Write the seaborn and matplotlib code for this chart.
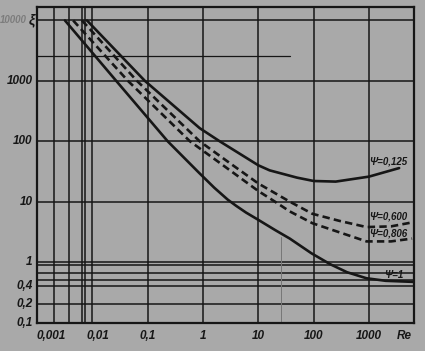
import matplotlib
matplotlib.use("Agg")
import matplotlib.pyplot as plt
import matplotlib.transforms as mtrans
import pandas as pd
import seaborn as sns

# readings: drag coefficient xi against Re
re_psi_1 = [0.0032, 0.027, 0.23, 0.85, 1.6, 2.8, 4, 6, 10, 20, 37, 91, 200, 400, 900, 2000, 6500]
xi_psi_1 = [10000, 1000, 100, 30, 17, 10.8, 8.5, 6.6, 5.0, 3.4, 2.45, 1.4, 0.92, 0.68, 0.54, 0.49, 0.47]
re_psi_0806 = [0.0045, 0.044, 0.58, 2, 10, 20, 37, 95, 295, 900, 2500, 6000]
xi_psi_0806 = [10000, 1000, 100, 44, 15, 10, 6.9, 4.4, 3.1, 2.2, 2.2, 2.45]
re_psi_0600 = [0.0065, 0.064, 0.87, 3, 10, 37, 95, 295, 900, 2500, 6500]
xi_psi_0600 = [10000, 1000, 100, 44, 20, 10, 6.3, 4.8, 3.8, 3.9, 4.6]
re_psi_0125 = [0.008, 0.089, 0.87, 2, 10, 16, 50, 100, 250, 1000, 3500]
xi_psi_0125 = [10000, 1000, 165, 100, 40, 33, 25, 22, 21.5, 26, 36]

curve_labels = ["Ψ=0,125", "Ψ=0,600", "Ψ=0,806", "Ψ=1"]

# grid of the drawing
x_grid = [0.002, 0.0038, 0.0065, 0.0073, 0.01, 0.1, 1, 10, 100, 1000]
y_grid = [0.2, 0.4, 0.5, 0.66, 0.88, 1, 10, 100, 1000, 10000]
x_ticks = [0.001, 0.01, 0.1, 1, 10, 100, 1000]
x_ticklabels = ["0,001", "0,01", "0,1", "1", "10", "100", "1000"]
y_ticks = [0.1, 0.2, 0.4, 1, 10, 100, 1000]
y_ticklabels = ["0,1", "0,2", "0,4", "1", "10", "100", "1000"]

rows = []
for name, res, xis, kind in [
    ("0.125", re_psi_0125, xi_psi_0125, "solid"),
    ("0.600", re_psi_0600, xi_psi_0600, "dashed"),
    ("0.806", re_psi_0806, xi_psi_0806, "dashed"),
    ("1", re_psi_1, xi_psi_1, "solid"),
]:
    for r, x in zip(res, xis):
        rows.append({"Re": r, "xi": x, "psi": name, "kind": kind})
dfrm = pd.DataFrame(rows)

bg = "#a9a9a9"
ink = "#161616"
sns.set_theme(style="white")
plt.rcParams["font.family"] = ["Liberation Sans", "DejaVu Sans"]

fig = plt.figure(figsize=(4.25, 3.51), dpi=100, facecolor=bg)
ax = fig.add_axes([37 / 425, 1 - 322.5 / 351, 377 / 425, 315.5 / 351])
ax.set_facecolor(bg)
ax.set_xscale("log")
ax.set_yscale("log")
ax.set_xlim(0.001, 6500)
ax.set_ylim(0.1, 16700)

for xv in x_grid:
    ax.axvline(xv, color=ink, lw=1.1, zorder=1)
for yv in y_grid:
    ax.axhline(yv, color=ink, lw=1.1, zorder=1)
# partial / faint lines of the original sheet
ax.axhline(2600, xmax=0.67, color=ink, lw=0.9, zorder=1)
ax.axvline(26, ymax=0.27, color="#777777", lw=0.7, zorder=1)

sns.lineplot(data=dfrm, x="Re", y="xi", units="psi", style="kind",
             estimator=None, sort=False, color=ink, lw=1.9,
             dashes={"solid": "", "dashed": (2.8, 1.6)},
             legend=False, ax=ax, zorder=3)

for side in ["left", "right", "top", "bottom"]:
    ax.spines[side].set_visible(True)
    ax.spines[side].set_color(ink)
    ax.spines[side].set_linewidth(1.6)

ax.set_xlabel("")
ax.set_ylabel("")
ax.set_xticks([])
ax.set_yticks([])
ax.minorticks_off()

font = dict(family=["Liberation Sans", "DejaVu Sans"], style="italic",
            weight="bold", size=8.5, color=ink)
xtrans = ax.get_xaxis_transform()
for xv, lab in zip(x_ticks, x_ticklabels):
    if lab == "0,001":
        ax.text(xv, -0.025, lab, transform=xtrans, ha="left", va="top", **font)
    elif lab == "0,01":
        tr = mtrans.offset_copy(xtrans, fig=fig, x=6, y=0, units="dots")
        ax.text(xv, -0.025, lab, transform=tr, ha="center", va="top", **font)
    else:
        ax.text(xv, -0.025, lab, transform=xtrans, ha="center", va="top", **font)
ax.text(0.975, -0.025, "Re", transform=ax.transAxes, ha="center", va="top", **font)

ytrans = ax.get_yaxis_transform()
for yv, lab in zip(y_ticks, y_ticklabels):
    ax.text(-0.012, yv, lab, transform=ytrans, ha="right", va="center", **font)
# faded top label and the xi symbol of the axis
ax.text(-0.026, 10000, "10000", transform=ytrans, ha="right", va="center",
        **{**font, "size": 7, "color": "#7c7c7c"})
ax.text(-0.006, 10000, "ξ", transform=ytrans, ha="right", va="center",
        **{**font, "size": 10})

small = {**font, "size": 7}
ax.text(1000, 47, curve_labels[0], ha="left", va="center", **small)
ax.text(1000, 5.6, curve_labels[1], ha="left", va="center", **small)
ax.text(1000, 2.45, curve_labels[2], ha="left", va="bottom", **small)
ax.text(1900, 0.51, curve_labels[3], ha="left", va="bottom", **small)

fig.savefig("out.png", dpi=100, facecolor=bg)
